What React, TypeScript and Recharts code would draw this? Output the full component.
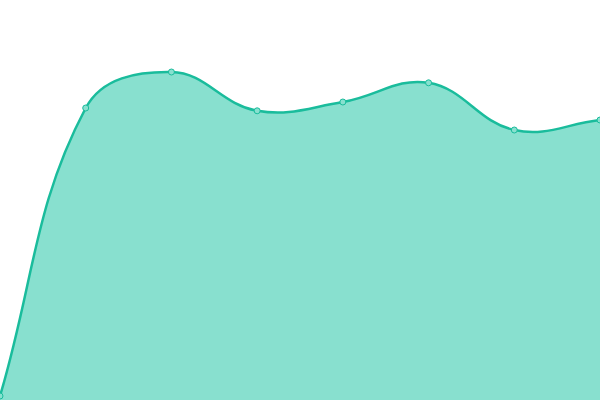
import { AreaChart, Area, XAxis, YAxis } from 'recharts';

const labels = ['P1', 'P2', 'P3', 'P4', 'P5', 'P6', 'P7', 'P8'];
const values = [1, 73, 82, 72.3, 74.5, 79.3, 67.5, 70];

const data = labels.map((label, i) => ({ label, value: values[i] }));

// spline curve in the style of chart.js (tension 0.4), as a d3-like curve factory
function splineCurve(tension: number) {
  return (context: any) => {
    let pts: [number, number][] = [];
    let line: number | undefined;
    return {
      areaStart() {
        line = 0;
      },
      areaEnd() {
        line = NaN;
      },
      lineStart() {
        pts = [];
      },
      point(x: number, y: number) {
        pts.push([+x, +y]);
      },
      lineEnd() {
        const n = pts.length;
        if (n) {
          if (line) context.lineTo(pts[0][0], pts[0][1]);
          else context.moveTo(pts[0][0], pts[0][1]);
        }
        const ctrl = pts.map((p, i) => {
          const prev = pts[i - 1] || p;
          const next = pts[i + 1] || p;
          const d01 = Math.hypot(p[0] - prev[0], p[1] - prev[1]);
          const d12 = Math.hypot(next[0] - p[0], next[1] - p[1]);
          let s01 = d01 / (d01 + d12);
          let s12 = d12 / (d01 + d12);
          if (isNaN(s01)) s01 = 0;
          if (isNaN(s12)) s12 = 0;
          const fa = tension * s01;
          const fb = tension * s12;
          return {
            prev: [p[0] - fa * (next[0] - prev[0]), p[1] - fa * (next[1] - prev[1])],
            next: [p[0] + fb * (next[0] - prev[0]), p[1] + fb * (next[1] - prev[1])],
          };
        });
        for (let i = 1; i < n; i++) {
          const a = ctrl[i - 1].next;
          const b = ctrl[i].prev;
          context.bezierCurveTo(a[0], a[1], b[0], b[1], pts[i][0], pts[i][1]);
        }
        if (line || (line !== 0 && n === 1)) context.closePath();
        line = 1 - (line as number);
      },
    };
  };
}

const curve = splineCurve(0.4);

export default function App() {
  return (
    <div style={{ position: 'absolute', top: 0, left: 0, width: 600, height: 400, background: '#fff' }}>
      <AreaChart width={600} height={400} data={data} margin={{ top: 0, right: 0, bottom: 0, left: 0 }}>
        <XAxis dataKey="label" hide />
        <YAxis domain={[0, 100]} hide />
        <Area
          type={curve as any}
          dataKey="value"
          stroke="#1abc9c"
          strokeWidth={2.5}
          fill="#88e0cf"
          fillOpacity={1}
          dot={{ r: 3, fill: '#88e0cf', stroke: '#1abc9c', strokeWidth: 1 }}
          activeDot={false}
          isAnimationActive={false}
        />
      </AreaChart>
    </div>
  );
}
